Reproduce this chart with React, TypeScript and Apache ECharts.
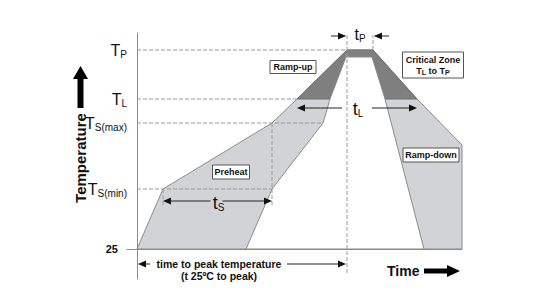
import React, { useEffect, useRef } from "react";
import * as echarts from "echarts";

// ---- data (profile units: x = time, y = temperature level) ----
const levelNames = ["25", "T_S(min)", "T_S(max)", "T_L", "T_P"];
const levelValues = [0, 60, 126, 150, 199];

// outer and inner edges of the reflow profile band
const outerProfile: number[][] = [
  [0, 0], [26, 60], [135, 126], [160, 150], [210, 199], [236, 199], [280, 150], [325, 104], [325, 0],
];
const innerProfile: number[][] = [
  [109, 0], [135, 60], [186, 126], [193, 150], [209, 192], [235, 192], [248, 150], [287, 0],
];

// time markers
const tsTimes = [26, 135];
const tlTimes = [160, 280];
const tpTimes = [210, 236];
const peakTime = 210;

const FONT = '"Liberation Sans", Arial, Helvetica, sans-serif';
const INK = "#111111";
const LIGHT = "#d2d3d7";
const DARK = "#7f7f7f";
const EDGE = "#8a8a8a";
const DASH = "#9a9a9a";

function levelOf(name: string) {
  return levelValues[levelNames.indexOf(name)];
}

function renderProfile(_params: any, api: any) {
  const c = (p: number[]) => api.coord(p);
  const TL = levelOf("T_L");
  const TP = levelOf("T_P");
  const TSMIN = levelOf("T_S(min)");
  const TSMAX = levelOf("T_S(max)");

  const children: any[] = [];
  const dashed = (a: number[], b: number[]) => {
    const p1 = c(a), p2 = c(b);
    children.push({
      type: "line",
      shape: { x1: p1[0], y1: p1[1], x2: p2[0], y2: p2[1] },
      style: { stroke: DASH, lineWidth: 1, lineDash: [4, 2] },
    });
  };
  const solid = (a: number[], b: number[]) => {
    const p1 = c(a), p2 = c(b);
    children.push({
      type: "line",
      shape: { x1: p1[0], y1: p1[1], x2: p2[0], y2: p2[1] },
      style: { stroke: "#222", lineWidth: 1 },
    });
  };
  const head = (tip: number[], dir: number) => {
    const p = c(tip);
    children.push({
      type: "polygon",
      shape: { points: [p, [p[0] - dir * 8, p[1] - 3.5], [p[0] - dir * 8, p[1] + 3.5]] },
      style: { fill: "#111" },
    });
  };
  const tLabel = (pos: number[], sub: string, size: number) => {
    const p = c(pos);
    children.push({
      type: "text",
      x: p[0],
      y: p[1],
      style: {
        text: `{t|t}{s|${sub}}`,
        align: "center",
        verticalAlign: "middle",
        rich: {
          t: { fontFamily: FONT, fontSize: size, fill: INK, color: INK },
          s: { fontFamily: FONT, fontSize: 10, fill: INK, color: INK, padding: [9, 0, 0, 0] },
        },
      },
    });
  };
  const box = (pos: number[], w: number, h: number, text: string, rich?: any) => {
    const p = c(pos);
    children.push({
      type: "rect",
      shape: { x: p[0] - w / 2, y: p[1] - h / 2, width: w, height: h },
      style: { fill: "#ffffff", stroke: "#555", lineWidth: 1 },
    });
    children.push({
      type: "text",
      x: p[0],
      y: p[1],
      style: {
        text,
        font: `bold 9px ${FONT}`,
        fill: INK,
        align: "center",
        verticalAlign: "middle",
        lineHeight: 11,
        rich,
      },
    });
  };

  // band shapes
  children.push({
    type: "polygon",
    shape: { points: outerProfile.map(c) },
    style: { fill: LIGHT, stroke: EDGE, lineWidth: 1 },
  });
  const critical = outerProfile.filter((p) => p[1] >= TL);
  children.push({
    type: "polygon",
    shape: { points: critical.map(c) },
    style: { fill: DARK, stroke: "#6f6f6f", lineWidth: 1 },
  });
  children.push({
    type: "polygon",
    shape: { points: innerProfile.map(c) },
    style: { fill: "#ffffff", stroke: EDGE, lineWidth: 1 },
  });

  // reference level lines
  dashed([0, TP], [tpTimes[0], TP]);
  dashed([0, TL], [tlTimes[0], TL]);
  dashed([0, TSMAX], [innerProfile[2][0], TSMAX]);
  dashed([0, TSMIN], [innerProfile[1][0], TSMIN]);
  // vertical markers
  dashed([peakTime, -24], [peakTime, 214]);
  dashed([tpTimes[1], TP], [tpTimes[1], 214]);
  dashed([tsTimes[0], TSMIN], [tsTimes[0], 42]);
  dashed([tsTimes[1], TSMAX], [tsTimes[1], 42]);

  // tP arrows
  const yP = 213;
  solid([tpTimes[0] - 16, yP], [tpTimes[0] - 2, yP]);
  head([tpTimes[0] - 1, yP], 1);
  solid([tpTimes[1] + 16, yP], [tpTimes[1] + 2, yP]);
  head([tpTimes[1] + 1, yP], -1);
  tLabel([(tpTimes[0] + tpTimes[1]) / 2, yP + 2], "P", 16);

  // tL arrow
  const yL = 141;
  const midL = (tlTimes[0] + tlTimes[1]) / 2;
  solid([tlTimes[0] + 2, yL], [midL - 15, yL]);
  solid([midL + 15, yL], [tlTimes[1] - 2, yL]);
  head([tlTimes[0], yL], -1);
  head([tlTimes[1], yL], 1);
  tLabel([midL + 1, yL - 1], "L", 18);

  // tS arrow
  const yS = 48;
  const midS = (tsTimes[0] + tsTimes[1]) / 2;
  solid([tsTimes[0] + 2, yS], [midS - 7, yS]);
  solid([midS + 5, yS], [tsTimes[1] - 2, yS]);
  head([tsTimes[0], yS], -1);
  head([tsTimes[1], yS], 1);
  tLabel([midS - 1 + 2, yS - 2], "S", 18);

  // time to peak arrow
  const yT = -15;
  solid([3, yT], [13, yT]);
  head([1, yT], -1);
  solid([150, yT], [peakTime - 3, yT]);
  head([peakTime - 1, yT], 1);
  const tp = c([82, yT]);
  children.push({
    type: "text",
    x: tp[0],
    y: tp[1] - 6,
    style: {
      text: "time to peak temperature\n(t 25ºC to peak)",
      font: `bold 10.5px ${FONT}`,
      fill: INK,
      align: "center",
      verticalAlign: "top",
      lineHeight: 12,
    },
  });

  // zone boxes
  box([156, 182], 46, 13, "Ramp-up");
  box([94, 77], 37, 14, "Preheat");
  box([294, 94], 56, 14, "Ramp-down");
  box([296, 184], 61, 26, "{b|Critical Zone}\n{b|T}{s|L}{b| to T}{s|P}", {
    b: { fontFamily: FONT, fontSize: 9, fontWeight: "bold", fill: INK, color: INK, lineHeight: 11 },
    s: { fontFamily: FONT, fontSize: 7, fontWeight: "bold", fill: INK, color: INK, lineHeight: 11, padding: [4, 0, 0, 0] },
  });

  return { type: "group", children };
}

export default function App() {
  const ref = useRef<HTMLDivElement>(null);
  useEffect(() => {
    document.body.style.margin = "0";
    if (!ref.current) return;
    const chart = echarts.init(ref.current, undefined, { renderer: "svg" });
    chart.setOption({
      animation: false,
      backgroundColor: "#ffffff",
      grid: { left: 127, right: 90, top: 33, bottom: 21, containLabel: false, outerBoundsMode: "none" },
      xAxis: {
        type: "value",
        min: -10,
        max: 325,
        axisLine: { show: true, onZero: true, lineStyle: { color: "#8c8c8c", width: 1 } },
        axisTick: { show: false },
        axisLabel: { show: false },
        splitLine: { show: false },
      },
      yAxis: {
        type: "value",
        min: -30,
        max: 216,
        axisLine: { show: true, onZero: true, lineStyle: { color: "#8c8c8c", width: 1 } },
        axisTick: { show: false },
        splitLine: { show: false },
        axisLabel: {
          customValues: levelValues,
          margin: 0,
          color: INK,
          formatter: (v: number) => {
            const name = levelNames[levelValues.indexOf(v)] || "";
            if (name.indexOf("_") < 0) return `{n|${name}}`;
            const [m, s] = name.split("_");
            return `{m|${m}}{s|${s}}`;
          },
          rich: {
            n: { fontFamily: FONT, fontSize: 11, fontWeight: "bold", color: INK, padding: [0, 9, 0, 0] },
            m: { fontFamily: FONT, fontSize: 16, color: INK },
            s: { fontFamily: FONT, fontSize: 10, color: INK, padding: [9, 0, 0, 0] },
          },
        },
      },
      series: [
        {
          type: "custom",
          renderItem: renderProfile,
          data: [[0, 0]],
          clip: false,
          silent: true,
        },
      ],
      graphic: [
        {
          type: "text",
          x: 80,
          y: 158,
          rotation: Math.PI / 2,
          style: {
            text: "Temperature",
            font: `bold 15px ${FONT}`,
            fill: INK,
            align: "center",
            verticalAlign: "middle",
          },
        },
        {
          type: "polygon",
          shape: { points: [[77.5, 108], [77.5, 79], [73, 79], [80.5, 66], [88, 79], [83.5, 79], [83.5, 108]] },
          style: { fill: "#000" },
        },
        {
          type: "text",
          x: 387,
          y: 271,
          style: { text: "Time", font: `bold 14px ${FONT}`, fill: INK, align: "left", verticalAlign: "middle" },
        },
        {
          type: "polygon",
          shape: { points: [[424, 268.5], [447, 268.5], [447, 265], [460, 271], [447, 277], [447, 273.5], [424, 273.5]] },
          style: { fill: "#000" },
        },
      ],
    });
    return () => chart.dispose();
  }, []);
  return <div ref={ref} style={{ width: 552, height: 300 }} />;
}
